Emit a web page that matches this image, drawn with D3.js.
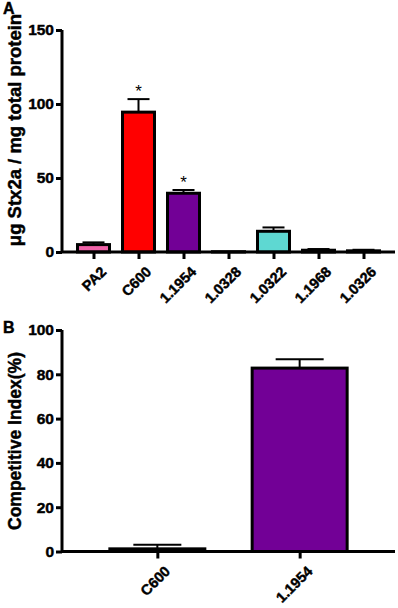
<!DOCTYPE html>
<html lang="en">
<head>
  <meta charset="UTF-8">
  <title>Stx2a production and competitive index</title>
  <script src="https://d3js.org/d3.v7.min.js"></script>
  <style>
    body { margin: 0; padding: 0; background: #fff; }
    svg { display: block; }
    svg text { font-family: "Liberation Sans", Arial, sans-serif; font-weight: bold; fill: #000; stroke: #000; stroke-width: 0.45px; }
  </style>
</head>
<body>
  <div id="chart"></div>

  <script>
    // Panel A
    const strainsA = ["PA2", "C600", "1.1954", "1.0328", "1.0322", "1.1968", "1.0326"];
    const stxMeans = [5, 94.5, 39.7, 0.2, 14, 1.2, 0.8];
    const stxErrors = [1.5, 8.8, 2.2, 0, 2.6, 0.8, 0.7];
    const stxColors = ["#f062a8", "#ff0000", "#720096", "#000000", "#5ed8d2", "#000000", "#000000"];
    const stxStars = ["", "*", "*", "", "", "", ""];
    const ticksA = [0, 50, 100, 150];

    // Panel B
    const strainsB = ["C600", "1.1954"];
    const ciMeans = [1.2, 82.8];
    const ciErrors = [1.8, 4];
    const ciColors = ["#000000", "#720096"];
    const ticksB = [0, 20, 40, 60, 80, 100];

    const width = 398, height = 608;

    const svg = d3.select("#chart").append("svg")
      .attr("width", width)
      .attr("height", height);

    function panel(opts) {
      const g = svg.append("g");

      const x = d3.scalePoint()
        .domain(opts.cats)
        .range([62, 395])
        .padding(opts.pad);

      const y = d3.scaleLinear()
        .domain([0, opts.max])
        .range([opts.bottom, opts.top]);

      // error bars (drawn first, bar covers the lower half)
      opts.cats.forEach((c, i) => {
        const v = opts.means[i], e = opts.errs[i];
        if (e <= 0) return;
        const cx = x(c);
        g.append("line")
          .attr("x1", cx).attr("x2", cx)
          .attr("y1", y(v)).attr("y2", y(v + e))
          .attr("stroke", "#000").attr("stroke-width", 2);
        g.append("line")
          .attr("x1", cx - opts.cap).attr("x2", cx + opts.cap)
          .attr("y1", y(v + e)).attr("y2", y(v + e))
          .attr("stroke", "#000").attr("stroke-width", 2);
      });

      // bars
      g.selectAll("rect.bar")
        .data(opts.cats)
        .join("rect")
        .attr("class", "bar")
        .attr("x", d => x(d) - opts.bw / 2)
        .attr("width", opts.bw)
        .attr("y", (d, i) => y(opts.means[i]))
        .attr("height", (d, i) => y(0) - y(opts.means[i]))
        .attr("fill", (d, i) => opts.colors[i])
        .attr("stroke", "#000")
        .attr("stroke-width", 3);

      // significance stars
      if (opts.stars) {
        opts.cats.forEach((c, i) => {
          if (!opts.stars[i]) return;
          g.append("text")
            .attr("x", x(c))
            .attr("y", y(opts.means[i] + opts.errs[i]) - 2)
            .attr("text-anchor", "middle")
            .attr("font-size", 17)
            .style("font-weight", "normal")
            .style("stroke-width", 0)
            .text(opts.stars[i]);
        });
      }

      // y axis
      const yAxis = g.append("g")
        .attr("transform", "translate(62,0)")
        .call(d3.axisLeft(y).tickValues(opts.ticks).tickSize(6).tickPadding(2).tickFormat(d3.format("d")));
      yAxis.select(".domain").attr("stroke-width", 3).attr("d", `M0,${opts.top}V${opts.bottom}`);
      yAxis.selectAll(".tick line").attr("stroke-width", 3);
      yAxis.selectAll(".tick text").attr("font-size", 15.5);

      // x axis (ticks only, labels drawn separately)
      const xAxis = g.append("g")
        .attr("transform", `translate(0,${opts.bottom})`)
        .call(d3.axisBottom(x).tickSize(7));
      xAxis.selectAll(".tick text").remove();
      xAxis.select(".domain").attr("stroke-width", 3).attr("d", "M62,0H395");
      xAxis.selectAll(".tick line").attr("stroke-width", 3);

      // category labels, rotated 45 degrees and ending at the tick
      opts.cats.forEach(c => {
        g.append("text")
          .attr("transform", `translate(${x(c) + 6},${opts.bottom + 13}) rotate(-45)`)
          .attr("text-anchor", "end")
          .attr("dy", "0.75em")
          .attr("font-size", 14.5)
          .text(c);
      });

      // y title
      g.append("text")
        .attr("transform", `translate(21,${opts.titleY}) rotate(-90)`)
        .attr("text-anchor", "middle")
        .attr("font-size", opts.titleSize)
        .text(opts.title);

      // panel letter
      g.append("text")
        .attr("x", 3)
        .attr("y", opts.letterY)
        .attr("font-size", 16)
        .text(opts.letter);
    }

    panel({
      cats: strainsA, means: stxMeans, errs: stxErrors, colors: stxColors, stars: stxStars,
      ticks: ticksA, max: 150, top: 30, bottom: 252, pad: 0.7, bw: 32, cap: 11,
      title: "\u03bcg Stx2a / mg total protein", titleY: 130, titleSize: 18.5,
      letter: "A", letterY: 14
    });

    panel({
      cats: strainsB, means: ciMeans, errs: ciErrors, colors: ciColors,
      ticks: ticksB, max: 100, top: 330, bottom: 551.5, pad: 0.67, bw: 95, cap: 24,
      title: "Competitive Index(%)", titleY: 441, titleSize: 17.5,
      letter: "B", letterY: 333
    });
  </script>
</body>
</html>
